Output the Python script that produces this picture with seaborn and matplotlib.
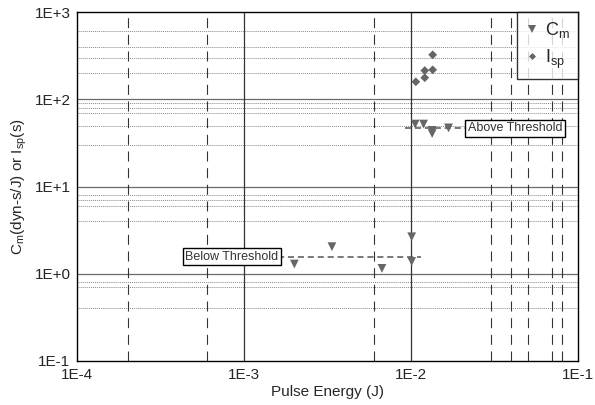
import numpy as np
import pandas as pd
import seaborn as sns
import matplotlib.pyplot as plt
from matplotlib.ticker import FixedLocator, NullFormatter

sns.set_style("white")
plt.rcParams['font.family'] = ['Liberation Sans', 'DejaVu Sans']

# Momentum coupling coefficient C_m (dyn-s/J) vs pulse energy (J)
cm_energy = [2.0e-3, 3.36e-3, 6.7e-3, 1.01e-2, 1.01e-2,
             1.06e-2, 1.19e-2, 1.34e-2, 1.34e-2, 1.68e-2]
cm_value = [1.29, 2.04, 1.15, 2.65, 1.38,
            52.0, 52.0, 44.0, 40.5, 47.0]

# Specific impulse I_sp (s) vs pulse energy (J)
isp_energy = [1.07e-2, 1.21e-2, 1.21e-2, 1.35e-2, 1.35e-2]
isp_value = [159, 177, 214, 218, 324]

# Threshold guide lines: level, start energy, end energy
below_level, below_span = 1.56, [1.6e-3, 1.15e-2]
above_level, above_span = 46.6, [9.2e-3, 2.15e-2]

# Reference grid positions
x_major_grid = [1e-3, 1e-2]
x_dashed_grid = [2e-4, 6e-4, 6e-3, 3e-2, 4e-2, 5e-2, 7e-2, 8e-2]
y_major_grid = [1e0, 1e1, 1e2]
y_dotted_grid = [0.4, 0.7, 0.8, 4, 6, 7, 8, 30, 50, 70, 80, 90,
                 200, 300, 400, 600]
x_ticks = [1e-4, 1e-3, 1e-2, 1e-1]
x_tick_labels = ["1E-4", "1E-3", "1E-2", "1E-1"]
y_ticks = [1e-1, 1e0, 1e1, 1e2, 1e3]
y_tick_labels = ["1E-1", "1E+0", "1E+1", "1E+2", "1E+3"]

CM = r"C$_\mathregular{m}$"
ISP = r"I$_\mathregular{sp}$"
df = pd.concat([
    pd.DataFrame({"energy": cm_energy, "value": cm_value, "series": CM}),
    pd.DataFrame({"energy": isp_energy, "value": isp_value, "series": ISP}),
])

fig = plt.figure(figsize=(5.95, 4.05), dpi=100)
ax = fig.add_axes([0.13, 0.109, 0.841, 0.861])
ax.set_xscale("log")
ax.set_yscale("log")
ax.set_xlim(1e-4, 1e-1)
ax.set_ylim(1e-1, 1e3)

for y in y_dotted_grid:
    ax.axhline(y, color="#8a8a8a", lw=0.7, ls=(0, (1, 1)), zorder=0)
for y in y_major_grid:
    ax.axhline(y, color="#6a6a6a", lw=0.9, zorder=0)
for x in x_dashed_grid:
    ax.axvline(x, color="#333333", lw=0.8, ls=(0, (9, 6)), zorder=0)
for x in x_major_grid:
    ax.axvline(x, color="#333333", lw=0.9, zorder=0)

# Threshold guides
ax.plot(below_span, [below_level] * 2, color="#555555", lw=1.1,
        ls=(0, (4, 2.5)), zorder=1)
ax.plot(above_span, [above_level] * 2, color="#555555", lw=1.1,
        ls=(0, (4, 2.5)), zorder=1)

sns.scatterplot(data=df, x="energy", y="value", hue="series", style="series",
                size="series", sizes={CM: 40, ISP: 20},
                markers={CM: "v", ISP: "D"},
                palette={CM: "#666666", ISP: "#666666"},
                edgecolor="none", ax=ax, zorder=3, legend=True)

box = dict(boxstyle="square,pad=0.2", fc="white", ec="black", lw=1.0)
ax.text(below_span[0], below_level, "Below Threshold", fontsize=9,
        ha="right", va="center", bbox=box, color="#333333", zorder=4)
ax.text(above_span[1] * 1.02, above_level, "Above Threshold", fontsize=9,
        ha="left", va="center", bbox=box, color="#333333", zorder=4)

ax.xaxis.set_major_locator(FixedLocator(x_ticks))
ax.set_xticklabels(x_tick_labels)
ax.xaxis.set_minor_locator(FixedLocator(x_dashed_grid))
ax.xaxis.set_minor_formatter(NullFormatter())
ax.yaxis.set_major_locator(FixedLocator(y_ticks))
ax.set_yticklabels(y_tick_labels)
ax.yaxis.set_minor_locator(FixedLocator([]))
ax.tick_params(axis="both", which="major", direction="out", length=4,
               width=0.8, labelsize=11, color="black", pad=1)
ax.tick_params(axis="x", which="minor", direction="inout", length=5,
               width=0.8, color="#333333")
for s in ax.spines.values():
    s.set_color("black")
    s.set_linewidth(1.0)

ax.set_xlabel("Pulse Energy (J)", fontsize=11, labelpad=2)
ax.set_ylabel(r"C$_\mathregular{m}$(dyn-s/J) or I$_\mathregular{sp}$(s)",
              fontsize=11, labelpad=4)

leg = ax.legend(loc="upper right", fontsize=13, frameon=True, fancybox=False,
                edgecolor="black", borderaxespad=0, handletextpad=0.3,
                handlelength=0.8, borderpad=0.45, labelspacing=0.4,
                markerscale=0.8)
leg.get_frame().set_linewidth(1.0)

fig.savefig("out.png", dpi=100)
